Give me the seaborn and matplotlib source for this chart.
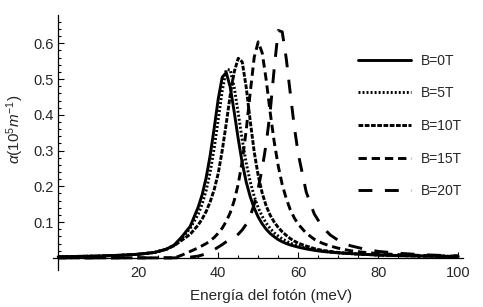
import numpy as np
import pandas as pd
import matplotlib
matplotlib.use('Agg')
import matplotlib.pyplot as plt
import seaborn as sns
from matplotlib.ticker import FixedLocator

# Photon energy (meV) and absorption (10^5 m^-1)
energy = [0, 5, 10, 15, 20, 24, 27, 29, 31, 33, 35, 36, 37, 38, 39, 40, 41, 42, 43, 44,
          45, 46, 47, 48, 49, 50, 51, 52, 53, 54, 55, 56, 57, 58, 59, 60, 62, 64, 66, 68,
          70, 73, 76, 80, 85, 90, 95, 100]

alpha_0T = [0.003, 0.004, 0.005, 0.007, 0.010, 0.015, 0.024, 0.036, 0.060, 0.088,
            0.142, 0.177, 0.225, 0.287, 0.363, 0.444, 0.505, 0.518, 0.478, 0.408,
            0.333, 0.266, 0.212, 0.171, 0.139, 0.114, 0.095, 0.080, 0.068, 0.059,
            0.051, 0.045, 0.040, 0.036, 0.033, 0.030, 0.025, 0.021, 0.018, 0.016,
            0.014, 0.012, 0.010, 0.008, 0.0065, 0.0055, 0.0045, 0.004]

alpha_5T = [0.003, 0.004, 0.005, 0.007, 0.010, 0.015, 0.024, 0.035, 0.055, 0.083,
            0.122, 0.151, 0.189, 0.240, 0.307, 0.386, 0.467, 0.526, 0.526, 0.477,
            0.405, 0.330, 0.265, 0.213, 0.172, 0.140, 0.116, 0.097, 0.082, 0.070,
            0.061, 0.053, 0.047, 0.041, 0.037, 0.033, 0.027, 0.023, 0.019, 0.016,
            0.014, 0.012, 0.010, 0.008, 0.0065, 0.0055, 0.0045, 0.004]

alpha_10T = [0.003, 0.004, 0.005, 0.007, 0.010, 0.015, 0.024, 0.034, 0.050, 0.066,
             0.092, 0.109, 0.130, 0.157, 0.191, 0.236, 0.300, 0.375, 0.455, 0.520,
             0.558, 0.548, 0.477, 0.383, 0.296, 0.230, 0.181, 0.145, 0.119, 0.100,
             0.085, 0.073, 0.063, 0.054, 0.047, 0.041, 0.033, 0.026, 0.021, 0.018,
             0.015, 0.012, 0.010, 0.008, 0.006, 0.005, 0.004, 0.0035]

alpha_15T = [0, 0, 0, 0, 0, 0, 0, 0, 0.008, 0.018,
             0.028, 0.034, 0.040, 0.048, 0.057, 0.069, 0.083, 0.102, 0.126, 0.160,
             0.206, 0.270, 0.357, 0.462, 0.561, 0.604, 0.573, 0.497, 0.406, 0.324,
             0.257, 0.205, 0.166, 0.135, 0.112, 0.094, 0.069, 0.052, 0.041, 0.033,
             0.027, 0.020, 0.016, 0.012, 0.009, 0.007, 0.0055, 0.0045]

alpha_20T = [0, 0, 0, 0, 0, 0, 0, 0, 0.001, 0.002,
             0.005, 0.008, 0.012, 0.017, 0.023, 0.030, 0.037, 0.045, 0.052, 0.058,
             0.066, 0.078, 0.094, 0.117, 0.150, 0.195, 0.250, 0.320, 0.410, 0.530,
             0.636, 0.632, 0.558, 0.462, 0.368, 0.291, 0.184, 0.123, 0.087, 0.064,
             0.049, 0.034, 0.026, 0.018, 0.013, 0.0093, 0.0071, 0.0056]

labels = ['B=0T', 'B=5T', 'B=10T', 'B=15T', 'B=20T']
series = [alpha_0T, alpha_5T, alpha_10T, alpha_15T, alpha_20T]
# dash patterns in points (unscaled)
styles = ['-', (0, (1.4, 1.5)), (0, (3.4, 1.1)), (0, (6, 3.5)), (0, (10, 9))]

sns.set_style('ticks')
plt.rcParams['font.family'] = ['Liberation Sans', 'DejaVu Sans']
plt.rcParams['mathtext.fontset'] = 'custom'
plt.rcParams['mathtext.rm'] = 'Liberation Sans'
plt.rcParams['mathtext.it'] = 'Liberation Sans:italic'
plt.rcParams['lines.scale_dashes'] = False

fig = plt.figure(figsize=(4.83, 3.07), dpi=100)
ax = fig.add_axes([0.1097, 0.1205, 0.849, 0.8305])

for lab, vals, ls in zip(labels, series, styles):
    sns.lineplot(x=energy, y=vals, ax=ax, color='black', lw=2.1,
                 linestyle=ls, label=lab, errorbar=None)

ax.set_xlim(-1.3, 101.2)
ax.set_ylim(-0.034, 0.679)

sns.despine(ax=ax)
ax.spines['left'].set_position(('data', 0))
ax.spines['bottom'].set_position(('data', 0))
for s in ('left', 'bottom'):
    ax.spines[s].set_linewidth(0.9)
    ax.spines[s].set_color('black')

ax.xaxis.set_major_locator(FixedLocator([20, 40, 60, 80, 100]))
ax.xaxis.set_minor_locator(FixedLocator([v for v in range(5, 100, 5) if v % 20]))
ax.yaxis.set_major_locator(FixedLocator([0.1, 0.2, 0.3, 0.4, 0.5, 0.6]))
ax.yaxis.set_minor_locator(FixedLocator([round(0.02 * i, 2) for i in range(1, 34) if i % 5]))
ax.set_yticklabels(['0.1', '0.2', '0.3', '0.4', '0.5', '0.6'])

ax.tick_params(which='both', direction='in', color='black', width=0.8)
ax.tick_params(which='major', length=4)
ax.tick_params(which='minor', length=2.2)
ax.tick_params(axis='x', which='major', pad=6, labelsize=10.5)
ax.tick_params(axis='y', which='major', pad=3, labelsize=10.5)

ax.set_xlabel('Energía del fotón (meV)', fontsize=11)
ax.set_ylabel(r'$\alpha(\mathrm{10}^5 m^{-1})$', fontsize=11)
ax.xaxis.set_label_coords(0.532, -0.075)
ax.yaxis.set_label_coords(-0.065, 0.55)

ax.legend(loc='upper left', bbox_to_anchor=(0.741, 0.825),
          bbox_transform=fig.transFigure, frameon=False, fontsize=10,
          handlelength=3.8, handletextpad=0.7, labelspacing=1.34,
          borderpad=0, borderaxespad=0)

fig.savefig('out.png', dpi=100)
